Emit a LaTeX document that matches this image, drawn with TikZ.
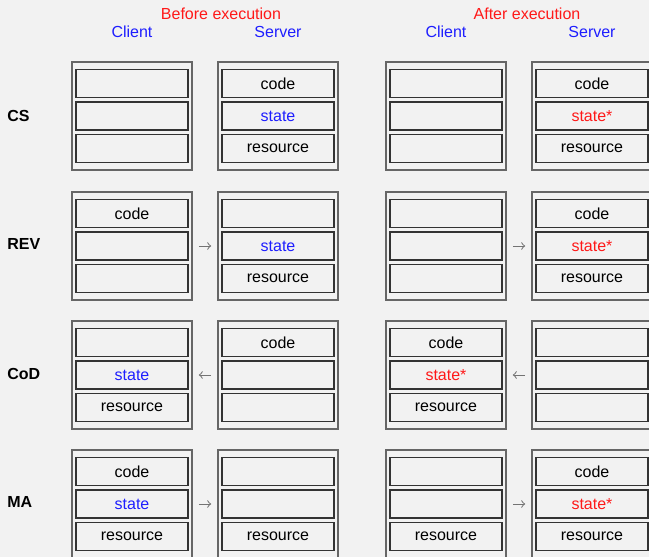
\documentclass[tikz,border=0pt]{standalone}
\usepackage{fontspec}
\setmainfont{Liberation Sans}
\usetikzlibrary{positioning}
\definecolor{bg}{RGB}{242,242,242}
\definecolor{hdblue}{RGB}{30,30,255}
\definecolor{hdred}{RGB}{255,25,25}

\begin{document}
\begin{tikzpicture}[
        x=0.5pt, y=-0.5pt,
        frame/.style={rectangle, draw=black!60, line width=0.8pt, minimum width=60pt, minimum height=54pt},
        slot/.style={rectangle, draw=black!80, line width=0.6pt, fill=bg, minimum width=56pt, minimum height=14pt, inner sep=0pt, font=\fontsize{8}{9.6}\selectfont},
        oldstate/.style={text=hdblue},
        newstate/.style={text=hdred},
        head/.style={inner sep=0pt, font=\fontsize{8}{9.6}\selectfont},
        rowlbl/.style={anchor=west, inner sep=0pt, font=\fontsize{8}{9.6}\selectfont\bfseries},
        flow/.style={->, draw=black!55, line width=0.5pt, shorten >=3pt, shorten <=3pt}
    ]
    \fill[bg, use as bounding box] (0,0) rectangle (649,557);

    % Headers
    \node[head, text=hdred] (before) at (221,14) {Before execution};
    \node[head, text=hdred] (after) at (527,14) {After execution};
    \node[head, text=hdblue] (bclient) at (132,32) {Client};
    \node[head, text=hdblue] (bserver) at (278,32) {Server};
    \node[head, text=hdblue] (aclient) at (446,32) {Client};
    \node[head, text=hdblue] (aserver) at (592,32) {Server};

    % CS
    \node[rowlbl] (csL) at (7,116) {CS};
    \node[frame] (csBC) at (132,116) {};
    \node[slot] (csBC2) at (csBC) {};
    \node[slot, above=1.5pt of csBC2] (csBC1) {};
    \node[slot, below=1.5pt of csBC2] (csBC3) {};
    \node[frame] (csBS) at (278,116) {};
    \node[slot, oldstate] (csBS2) at (csBS) {state};
    \node[slot, above=1.5pt of csBS2] (csBS1) {code};
    \node[slot, below=1.5pt of csBS2] (csBS3) {resource};
    \node[frame] (csAC) at (446,116) {};
    \node[slot] (csAC2) at (csAC) {};
    \node[slot, above=1.5pt of csAC2] (csAC1) {};
    \node[slot, below=1.5pt of csAC2] (csAC3) {};
    \node[frame] (csAS) at (592,116) {};
    \node[slot, newstate] (csAS2) at (csAS) {state*};
    \node[slot, above=1.5pt of csAS2] (csAS1) {code};
    \node[slot, below=1.5pt of csAS2] (csAS3) {resource};

    % REV
    \node[rowlbl] (revL) at (7,244) {REV};
    \node[frame] (revBC) at (132,246) {};
    \node[slot] (revBC2) at (revBC) {};
    \node[slot, above=1.5pt of revBC2] (revBC1) {code};
    \node[slot, below=1.5pt of revBC2] (revBC3) {};
    \node[frame] (revBS) at (278,246) {};
    \node[slot, oldstate] (revBS2) at (revBS) {state};
    \node[slot, above=1.5pt of revBS2] (revBS1) {};
    \node[slot, below=1.5pt of revBS2] (revBS3) {resource};
    \node[frame] (revAC) at (446,246) {};
    \node[slot] (revAC2) at (revAC) {};
    \node[slot, above=1.5pt of revAC2] (revAC1) {};
    \node[slot, below=1.5pt of revAC2] (revAC3) {};
    \node[frame] (revAS) at (592,246) {};
    \node[slot, newstate] (revAS2) at (revAS) {state*};
    \node[slot, above=1.5pt of revAS2] (revAS1) {code};
    \node[slot, below=1.5pt of revAS2] (revAS3) {resource};
    \draw[flow] (revBC) -- (revBS);
    \draw[flow] (revAC) -- (revAS);

    % CoD
    \node[rowlbl] (codL) at (7,374) {CoD};
    \node[frame] (codBC) at (132,375) {};
    \node[slot, oldstate] (codBC2) at (codBC) {state};
    \node[slot, above=1.5pt of codBC2] (codBC1) {};
    \node[slot, below=1.5pt of codBC2] (codBC3) {resource};
    \node[frame] (codBS) at (278,375) {};
    \node[slot] (codBS2) at (codBS) {};
    \node[slot, above=1.5pt of codBS2] (codBS1) {code};
    \node[slot, below=1.5pt of codBS2] (codBS3) {};
    \node[frame] (codAC) at (446,375) {};
    \node[slot, newstate] (codAC2) at (codAC) {state*};
    \node[slot, above=1.5pt of codAC2] (codAC1) {code};
    \node[slot, below=1.5pt of codAC2] (codAC3) {resource};
    \node[frame] (codAS) at (592,375) {};
    \node[slot] (codAS2) at (codAS) {};
    \node[slot, above=1.5pt of codAS2] (codAS1) {};
    \node[slot, below=1.5pt of codAS2] (codAS3) {};
    \draw[flow] (codBS) -- (codBC);
    \draw[flow] (codAS) -- (codAC);

    % MA
    \node[rowlbl] (maL) at (7,502) {MA};
    \node[frame] (maBC) at (132,504) {};
    \node[slot, oldstate] (maBC2) at (maBC) {state};
    \node[slot, above=1.5pt of maBC2] (maBC1) {code};
    \node[slot, below=1.5pt of maBC2] (maBC3) {resource};
    \node[frame] (maBS) at (278,504) {};
    \node[slot] (maBS2) at (maBS) {};
    \node[slot, above=1.5pt of maBS2] (maBS1) {};
    \node[slot, below=1.5pt of maBS2] (maBS3) {resource};
    \node[frame] (maAC) at (446,504) {};
    \node[slot] (maAC2) at (maAC) {};
    \node[slot, above=1.5pt of maAC2] (maAC1) {};
    \node[slot, below=1.5pt of maAC2] (maAC3) {resource};
    \node[frame] (maAS) at (592,504) {};
    \node[slot, newstate] (maAS2) at (maAS) {state*};
    \node[slot, above=1.5pt of maAS2] (maAS1) {code};
    \node[slot, below=1.5pt of maAS2] (maAS3) {resource};
    \draw[flow] (maBC) -- (maBS);
    \draw[flow] (maAC) -- (maAS);
\end{tikzpicture}
\end{document}
